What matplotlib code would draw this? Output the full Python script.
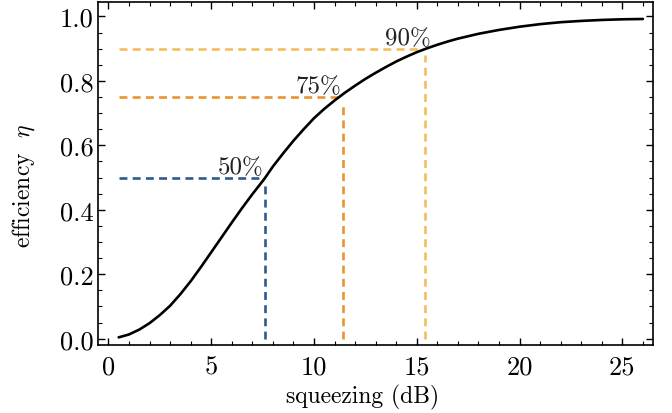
import matplotlib
matplotlib.use("Agg")
import matplotlib.pyplot as plt
from matplotlib.ticker import MultipleLocator

plt.rcParams["font.family"] = "cmr10"
plt.rcParams["mathtext.fontset"] = "cm"
plt.rcParams["axes.formatter.use_mathtext"] = True

# efficiency curve
squeezing_db = [0.5, 1.0, 1.5, 2.0, 2.5, 3.0, 3.5, 4.0, 4.5, 5.0, 5.5, 6.0, 6.5,
                7.0, 7.6, 8.0, 8.5, 9.0, 9.5, 10.0, 10.5, 11.0, 11.5, 12.0,
                12.5, 13.0, 13.5, 14.0, 14.5, 15.0, 15.5, 16.0, 16.5, 17.0,
                18.0, 19.0, 20.0, 21.0, 22.0, 23.0, 24.0, 25.0, 26.0]
efficiency = [0.004, 0.013, 0.028, 0.048, 0.073, 0.102, 0.138, 0.178, 0.222,
              0.268, 0.314, 0.360, 0.405, 0.448, 0.497, 0.534, 0.575, 0.614,
              0.650, 0.684, 0.713, 0.739, 0.763, 0.785, 0.806, 0.825, 0.843,
              0.860, 0.875, 0.889, 0.901, 0.912, 0.922, 0.931, 0.946, 0.958,
              0.968, 0.976, 0.982, 0.986, 0.989, 0.991, 0.992]

# threshold markers
levels = [0.50, 0.75, 0.90]
level_x = [7.6, 11.4, 15.4]
level_labels = ["50%", "75%", "90%"]
level_colors = ["#2f5a8e", "#e8952f", "#f5bd60"]
label_pos = [(6.41, 0.514), (10.24, 0.766), (14.59, 0.913)]

fig = plt.figure(figsize=(6.72, 4.14), dpi=100)
ax = fig.add_axes([0.146, 0.164, 0.826, 0.829])

for lv, lx, lab, col, (tx, ty) in zip(levels, level_x, level_labels, level_colors, label_pos):
    ax.plot([0.5, lx - 0.25], [lv, lv], color=col, lw=1.9, dashes=(3.0, 2.0))
    ax.plot([lx, lx], [0.0, lv - 0.02], color=col, lw=1.9, dashes=(3.0, 2.0))
    ax.text(tx, ty, lab, fontsize=18, ha="center", va="baseline", color="#222222")

ax.plot(squeezing_db, efficiency, color="black", lw=1.9, solid_capstyle="round")

ax.set_xlim(-0.5, 26.5)
ax.set_ylim(-0.02, 1.045)
ax.xaxis.set_minor_locator(MultipleLocator(1))
ax.yaxis.set_minor_locator(MultipleLocator(0.05))
ax.set_yticks([0.0, 0.2, 0.4, 0.6, 0.8, 1.0])
ax.set_yticklabels(["0.0", "0.2", "0.4", "0.6", "0.8", "1.0"])
ax.set_xticks([0, 5, 10, 15, 20, 25])
ax.set_xticklabels(["0", "5", "10", "15", "20", "25"])

ax.tick_params(which="both", direction="in", top=True, right=True, labelsize=19, colors="black")
ax.tick_params(which="major", length=5, width=1.0)
ax.tick_params(which="minor", length=3, width=0.8)
ax.tick_params(axis="x", which="major", pad=7)
ax.tick_params(axis="y", which="major", pad=3)
for s in ax.spines.values():
    s.set_linewidth(1.2)

ax.set_xlabel("squeezing (dB)", fontsize=17)
ax.set_ylabel(r"efficiency  $\eta$", fontsize=17)
ax.xaxis.set_label_coords(0.476, -0.112)
ax.yaxis.set_label_coords(-0.11, 0.466)

fig.savefig("out.png", dpi=100)
